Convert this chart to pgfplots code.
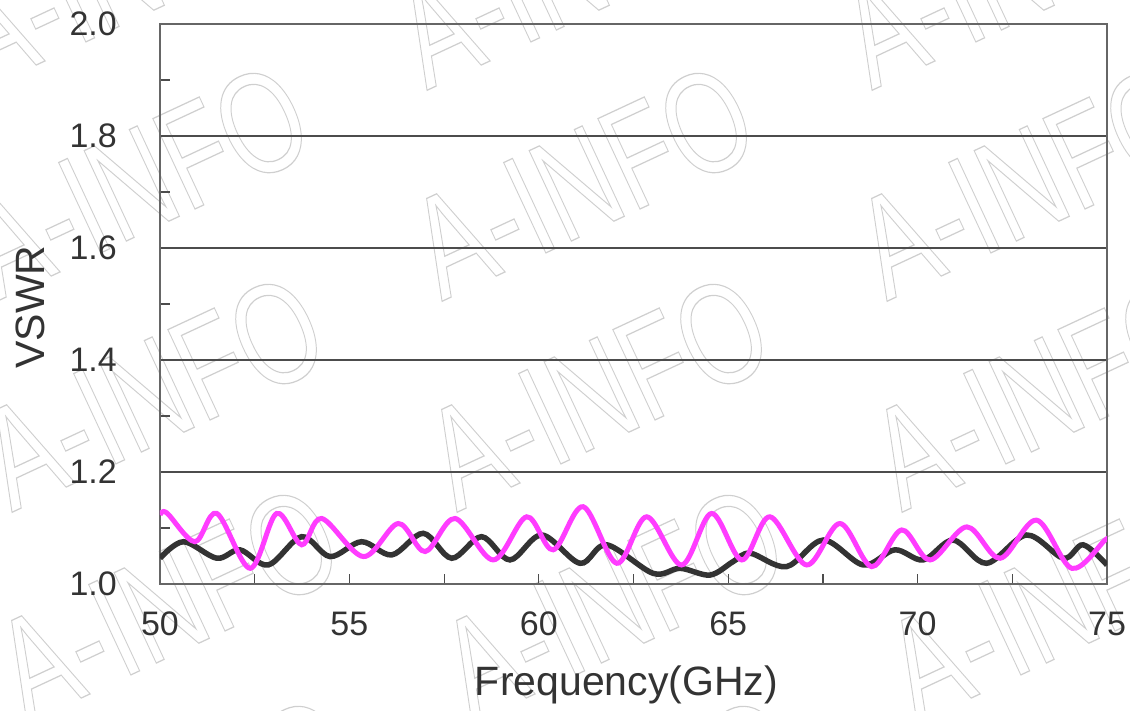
\documentclass[border=0pt]{standalone}
\usepackage{fontspec}
\setmainfont{Liberation Sans}
\usepackage{pgfplots}
\usepackage{pgfplotstable}
\pgfplotsset{compat=1.18}
\definecolor{curveblack}{HTML}{333333}
\definecolor{curvemag}{HTML}{FF3CFF}
\definecolor{wm}{HTML}{CFCFCF}

\pgfplotstableread{
f v
50.00 1.046
50.62 1.0755
51.50 1.046
52.11 1.061
52.86 1.034
53.74 1.0845
54.49 1.049
55.32 1.0755
56.12 1.052
56.95 1.0905
57.70 1.046
58.49 1.0845
59.24 1.043
60.08 1.0875
61.09 1.037
61.79 1.070
63.02 1.019
63.73 1.028
64.52 1.016
65.13 1.040
65.58 1.055
66.54 1.031
67.51 1.0785
68.57 1.034
69.40 1.061
70.15 1.043
70.94 1.0785
71.82 1.037
72.88 1.0875
73.85 1.046
74.37 1.070
75.00 1.034
}\portone

\pgfplotstableread{
f v
50.00 1.123
50.18 1.127
50.92 1.0755
51.50 1.126
52.38 1.028
53.08 1.126
53.74 1.070
54.27 1.117
55.37 1.049
56.29 1.108
57.00 1.058
57.79 1.117
58.80 1.043
59.68 1.120
60.38 1.061
61.17 1.138
62.06 1.037
62.85 1.120
63.77 1.034
64.56 1.126
65.36 1.043
66.10 1.120
67.07 1.034
67.95 1.108
68.79 1.031
69.58 1.0965
70.33 1.043
71.30 1.102
72.18 1.046
73.14 1.114
74.07 1.028
74.95 1.0785
75.00 1.078
}\porttwo

\begin{document}
\begin{tikzpicture}[x=1pt,y=1pt]
\path[use as bounding box] (0,0) rectangle (1130,710);
\begin{scope}
\clip (0,0) rectangle (1130,710);
\foreach \r in {-1,0,1,2,3}{
  \foreach \c in {-1,0,1}{
    \pgfmathsetmacro{\cx}{582+15*\r+445*\c}
    \pgfmathsetmacro{\cy}{529-211*\r}
    \node[rotate=25, yscale=1.38, text=wm, inner sep=0pt, font=\fontsize{105}{105}\selectfont]
      at (\cx,\cy) {\special{pdf:literal direct 1 Tr 0.9 w}A-INFO\special{pdf:literal direct 0 Tr}};
  }
}
\end{scope}
\begin{axis}[
  at={(160pt,126pt)}, anchor=south west,
  scale only axis, width=947pt, height=560pt,
  xmin=50, xmax=75, ymin=1, ymax=2,
  xtick={50,55,60,65,70,75},
  minor xtick={52.5,57.5,62.5,67.5,72.5},
  ytick={1,1.2,1.4,1.6,1.8,2},
  minor ytick={1.1,1.3,1.5,1.7,1.9},
  tick pos=left, tick align=inside,
  major tick length=10pt, minor tick length=10pt,
  ymajorgrids,
  major grid style={black!70, line width=1.2pt},
  axis line style={black!60, line width=2pt},
  tick style={black!70, line width=1.2pt},
  /pgf/number format/assume math mode=true,
  ticklabel style={font=\fontsize{34}{34}\selectfont, text=black!80},
  yticklabel style={anchor=east, inner sep=0pt, xshift=-43pt,
    /pgf/number format/fixed, /pgf/number format/fixed zerofill, /pgf/number format/precision=1},
  xticklabel style={anchor=north, inner sep=0pt, yshift=-28pt},
  xlabel={Frequency(GHz)},
  ylabel={VSWR},
  label style={font=\fontsize{41}{41}\selectfont, text=black!80},
  xlabel style={at={([xshift=-7pt,yshift=-111pt]axis description cs:0.5,0)}, anchor=base, inner sep=0pt},
  ylabel style={at={([xshift=-115pt,yshift=-3pt]axis description cs:0,0.5)}, anchor=base, inner sep=0pt},
]
\addplot[curveblack, line width=5.5pt, smooth, tension=0.55] table[x=f,y=v] {\portone};
\addplot[curvemag, line width=5pt, smooth, tension=0.55] table[x=f,y=v] {\porttwo};
\end{axis}
\end{tikzpicture}
\end{document}
